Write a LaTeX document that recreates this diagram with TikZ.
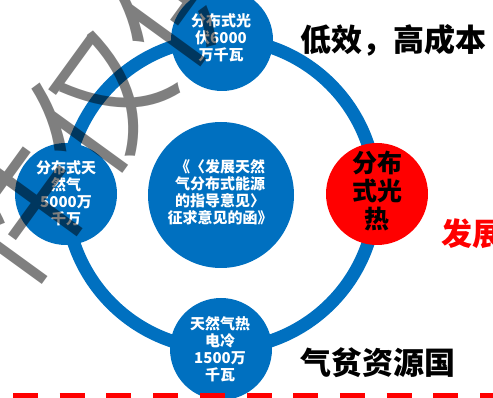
\documentclass[tikz,border=0pt]{standalone}
\usepackage{fontspec}
\newfontfamily\cjk{Noto Sans CJK SC}
\definecolor{ringblue}{HTML}{0070C0}
\definecolor{pured}{HTML}{FF0000}
\begin{document}
\begin{tikzpicture}[x=1pt,y=-1pt,
  bluecirc/.style={circle,fill=ringblue,minimum size=102pt,inner sep=0pt},
  smalltext/.style={text=white,font=\cjk\bfseries\fontsize{15}{17}\selectfont,align=center,inner sep=0pt},
  bigtext/.style={font=\cjk\bfseries\fontsize{31}{36}\selectfont,inner sep=0pt,anchor=west}]
\useasboundingbox (0,0) rectangle (493,398);
\begin{scope}
\clip (0,0) rectangle (493,398);
% ring
\node[circle,draw=ringblue,line width=13pt,minimum size=310pt,inner sep=0pt] (ring) at (221,194) {};
% circles
\node[bluecirc] (top) at (222,40) {};
\node[bluecirc] (left) at (66,194) {};
\node[bluecirc] (bottom) at (221,349) {};
\node[circle,fill=pured,minimum size=102pt,inner sep=0pt] (right) at (377,194) {};
\node[circle,fill=ringblue,minimum size=146pt,inner sep=0pt] (center) at (221,195) {};
% texts
\node[smalltext] (toptxt) at (221,38) {分布式光\\伏6000\\万千瓦};
\node[smalltext] (lefttxt) at (66,193) {分布式天\\然气\\5000万\\千万};
\node[smalltext] (bottomtxt) at (220,349) {天然气热\\电冷\\1500万\\千瓦};
\node[smalltext] (centertxt) at (220,192.5) {《〈发展天然\\气分布式能源\\的指导意见〉\\征求意见的函》};
\node[text=black,font=\cjk\bfseries\fontsize{25}{28}\selectfont,align=center,inner sep=0pt] (righttxt) at (377,191) {分布\\式光\\热};
% big labels
\node[bigtext] (l1) at (300,40) {低效，高成本};
\node[bigtext] (l2) at (300,363) {气贫资源国};
\node[bigtext,text=pured] (l3) at (441,234) {发展};
% red dashed line
\coordinate (dl) at (13,397);
\coordinate (dr) at (493,397);
\draw[pured,line width=8pt,dash pattern=on 25pt off 21.7pt] (dl) -- (dr);
% watermark
\node[font=\cjk\fontsize{135}{135}\selectfont,text=black,text opacity=0.5,rotate=54,inner sep=0pt] (wm) at (98,103) {件仅供};
\end{scope}
\end{tikzpicture}
\end{document}
